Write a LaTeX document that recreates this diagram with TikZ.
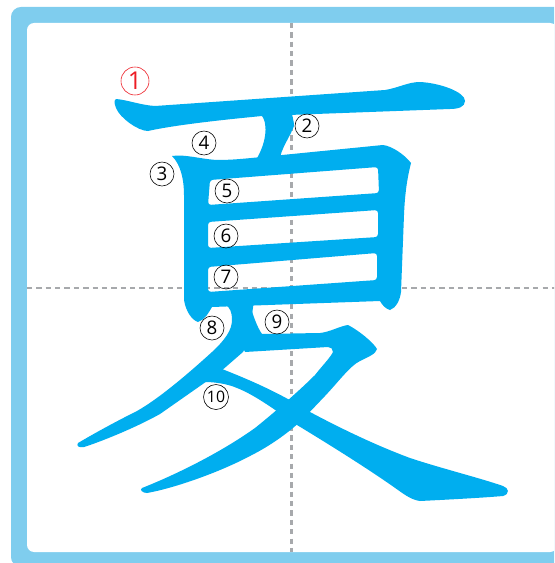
\documentclass[tikz,border=0pt]{standalone}
\usepackage{fontspec}
\setmainfont{Open Sans}
\usepackage{xcolor}
\usepackage{tikz}

\definecolor{inkblue}{HTML}{00AEEF}
\definecolor{framebg}{HTML}{7FCDEE}
\definecolor{guidegray}{HTML}{A7A9AC}
\definecolor{firstred}{HTML}{ED1C24}

\begin{document}
\begin{tikzpicture}[
  x=0.03cm, y=-0.03cm,
  brush/.style={fill=inkblue},
  guide/.style={draw=guidegray, line width=2pt, dash pattern=on 4.5pt off 3.5pt},
  num/.style={circle, draw=black, line width=0.5pt, inner sep=0pt, minimum size=0.72cm,
    font=\fontsize{16pt}{16pt}\selectfont},
  firstnum/.style={num, draw=firstred, text=firstred, minimum size=0.84cm,
    font=\fontsize{21pt}{21pt}\selectfont}
]
\useasboundingbox (0,0) rectangle (554,563);
\clip (0,0) rectangle (554,563);

% frame
\fill[framebg, rounded corners=8.5pt] (11,7) rectangle (575,567);
\fill[white, rounded corners=6pt] (27,23) rectangle (557,552);

% guide lines
\draw[guide] (291.5,23) -- (291.5,552);
\draw[guide] (27,288) -- (557,288);

% stroke 1
\fill[brush] (116,99) .. controls (128,100) and (140,105) .. (155,106)
  -- (385,90) .. controls (398,88) and (408,82) .. (420,82)
  .. controls (440,83) and (465,92) .. (465,101)
  .. controls (465,107) and (458,109) .. (450,109)
  -- (262,116) .. controls (210,121) and (170,126) .. (148,131)
  .. controls (138,131) and (120,118) .. (116,108)
  .. controls (114,103) and (114,100) .. (116,99) -- cycle;

% stroke 2
\fill[brush] (260,112) -- (262,116) .. controls (267,122) and (268,140) .. (256,160)
  -- (280,160) .. controls (280,150) and (290,137) .. (294,126)
  .. controls (294,120) and (292,117) .. (292,112) -- cycle;

% strokes 3 to 7 (box)
\fill[brush, even odd rule] (172,156) .. controls (185,154) and (200,159) .. (217,160)
  .. controls (235,160) and (250,158) .. (262,157)
  -- (383,145) .. controls (392,146) and (405,155) .. (411,163)
  .. controls (408,175) and (405,190) .. (404,215)
  -- (401,292) .. controls (400,300) and (396,308) .. (390,310)
  .. controls (386,309) and (382,305) .. (380,301)
  -- (212,307) .. controls (209,312) and (205,320) .. (198,322)
  .. controls (192,320) and (186,312) .. (184,300)
  -- (184,195) .. controls (184,180) and (181,165) .. (172,156) -- cycle
  [rounded corners=2.5pt]
  (210,180) -- (378,167) -- (379,193) -- (208,205) -- cycle
  (208,222) -- (378,210) -- (378,237) -- (208,248) -- cycle
  (208,267) -- (377,253) -- (377,280) -- (208,292) -- cycle;

% stroke 8
\fill[brush] (224,300) -- (254,300) -- (250,330)
  .. controls (248,340) and (246,348) .. (243,352)
  -- (220,372) .. controls (200,386) and (180,400) .. (160,414)
  .. controls (135,428) and (100,442) .. (84,447)
  .. controls (79,448) and (76,446) .. (78,443)
  .. controls (95,433) and (115,422) .. (137,411)
  .. controls (160,398) and (190,372) .. (212,352)
  .. controls (225,340) and (232,330) .. (232,320)
  .. controls (232,312) and (230,308) .. (226,305) -- cycle;

% stroke 9
\fill[brush] (246,298) -- (250,305) .. controls (253,315) and (257,327) .. (262,334)
  -- (320,333) .. controls (330,332) and (340,326) .. (348,325)
  .. controls (358,330) and (373,342) .. (377,349)
  .. controls (376,354) and (368,357) .. (360,361)
  .. controls (350,366) and (340,380) .. (325,396)
  -- (305,417) .. controls (290,432) and (270,446) .. (250,456)
  .. controls (220,472) and (175,488) .. (147,493)
  .. controls (143,493) and (139,490) .. (142,488)
  .. controls (175,475) and (220,453) .. (255,428)
  .. controls (275,412) and (300,390) .. (315,375)
  .. controls (322,366) and (330,358) .. (333,352)
  .. controls (333,349) and (331,347) .. (328,347)
  -- (245,352) -- (235,330) -- cycle;

% stroke 10
\fill[brush] (210,372) -- (222,369) .. controls (250,380) and (280,393) .. (310,412)
  .. controls (340,428) and (375,445) .. (410,458)
  .. controls (440,468) and (480,478) .. (503,486)
  .. controls (509,488) and (510,494) .. (503,496)
  .. controls (480,498) and (440,500) .. (420,501)
  .. controls (412,500) and (405,495) .. (398,490)
  .. controls (370,470) and (330,445) .. (297,425)
  .. controls (275,410) and (255,395) .. (237,388)
  .. controls (228,384) and (215,382) .. (205,382) -- cycle;

% stroke numbers
\node[firstnum] (n1) at (135,81) {1};
\node[num] (n2) at (307,126) {2};
\node[num] (n3) at (162,174) {3};
\node[num] (n4) at (204,143) {4};
\node[num] (n5) at (227,191) {5};
\node[num] (n6) at (226,236) {6};
\node[num] (n7) at (226,277) {7};
\node[num] (n8) at (212,328) {8};
\node[num] (n9) at (277,322) {9};
\node[num, minimum size=0.75cm, font=\fontsize{13.5pt}{13.5pt}\selectfont] (n10) at (216,397) {10};
\end{tikzpicture}
\end{document}
